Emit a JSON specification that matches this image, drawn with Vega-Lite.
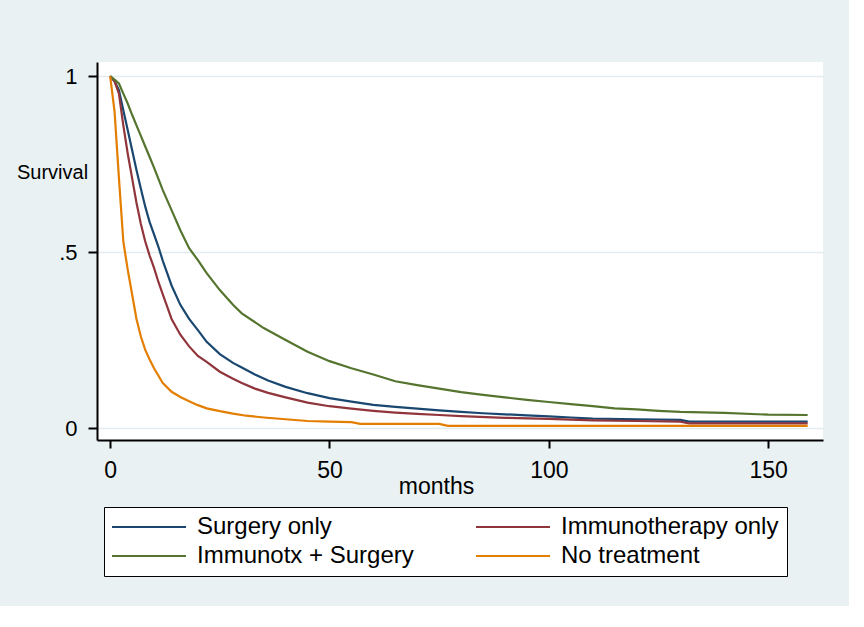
{
  "$schema": "https://vega.github.io/schema/vega-lite/v6.json",
  "autosize": {"type": "none"},
  "width": 726,
  "height": 378,
  "padding": {"left": 97, "top": 62, "right": 26, "bottom": 166},
  "background": "#E9F1F3",
  "config": {
    "view": {"fill": "white", "stroke": null},
    "font": "Liberation Sans",
    "axis": {
      "domainColor": "black", "domainWidth": 2,
      "tickColor": "black", "tickWidth": 2,
      "labelColor": "black", "titleColor": "black",
      "labelFont": "Liberation Sans", "titleFont": "Liberation Sans",
      "titleFontWeight": "normal",
      "gridColor": "#E2ECEF", "gridWidth": 1.5
    },
    "legend": {
      "labelFont": "Liberation Sans"
    }
  },
  "data": {"values": [
    {"group": "Surgery only", "t": 0, "s": 1},
    {"group": "Surgery only", "t": 1, "s": 0.985},
    {"group": "Surgery only", "t": 2, "s": 0.96},
    {"group": "Surgery only", "t": 3, "s": 0.903},
    {"group": "Surgery only", "t": 4, "s": 0.847},
    {"group": "Surgery only", "t": 5, "s": 0.79},
    {"group": "Surgery only", "t": 6, "s": 0.733},
    {"group": "Surgery only", "t": 7, "s": 0.68},
    {"group": "Surgery only", "t": 8, "s": 0.629},
    {"group": "Surgery only", "t": 9, "s": 0.585},
    {"group": "Surgery only", "t": 10, "s": 0.55},
    {"group": "Surgery only", "t": 11, "s": 0.515},
    {"group": "Surgery only", "t": 12, "s": 0.475},
    {"group": "Surgery only", "t": 13, "s": 0.44},
    {"group": "Surgery only", "t": 14, "s": 0.405},
    {"group": "Surgery only", "t": 16, "s": 0.35},
    {"group": "Surgery only", "t": 18, "s": 0.31},
    {"group": "Surgery only", "t": 20, "s": 0.278},
    {"group": "Surgery only", "t": 22, "s": 0.245},
    {"group": "Surgery only", "t": 25, "s": 0.21},
    {"group": "Surgery only", "t": 28, "s": 0.185},
    {"group": "Surgery only", "t": 30, "s": 0.172},
    {"group": "Surgery only", "t": 33, "s": 0.152},
    {"group": "Surgery only", "t": 36, "s": 0.135},
    {"group": "Surgery only", "t": 40, "s": 0.117},
    {"group": "Surgery only", "t": 45, "s": 0.099},
    {"group": "Surgery only", "t": 50, "s": 0.085},
    {"group": "Surgery only", "t": 55, "s": 0.075},
    {"group": "Surgery only", "t": 60, "s": 0.066},
    {"group": "Surgery only", "t": 65, "s": 0.06},
    {"group": "Surgery only", "t": 70, "s": 0.055},
    {"group": "Surgery only", "t": 75, "s": 0.05},
    {"group": "Surgery only", "t": 80, "s": 0.046},
    {"group": "Surgery only", "t": 85, "s": 0.042},
    {"group": "Surgery only", "t": 90, "s": 0.039},
    {"group": "Surgery only", "t": 95, "s": 0.036},
    {"group": "Surgery only", "t": 100, "s": 0.033},
    {"group": "Surgery only", "t": 105, "s": 0.03},
    {"group": "Surgery only", "t": 110, "s": 0.027},
    {"group": "Surgery only", "t": 120, "s": 0.025},
    {"group": "Surgery only", "t": 130, "s": 0.023},
    {"group": "Surgery only", "t": 132, "s": 0.018},
    {"group": "Surgery only", "t": 159, "s": 0.018},

    {"group": "Immunotherapy only", "t": 0, "s": 1},
    {"group": "Immunotherapy only", "t": 1, "s": 0.985},
    {"group": "Immunotherapy only", "t": 2, "s": 0.95},
    {"group": "Immunotherapy only", "t": 3, "s": 0.86},
    {"group": "Immunotherapy only", "t": 4, "s": 0.78},
    {"group": "Immunotherapy only", "t": 5, "s": 0.71},
    {"group": "Immunotherapy only", "t": 6, "s": 0.64},
    {"group": "Immunotherapy only", "t": 7, "s": 0.58},
    {"group": "Immunotherapy only", "t": 8, "s": 0.53},
    {"group": "Immunotherapy only", "t": 9, "s": 0.49},
    {"group": "Immunotherapy only", "t": 10, "s": 0.455},
    {"group": "Immunotherapy only", "t": 11, "s": 0.415},
    {"group": "Immunotherapy only", "t": 12, "s": 0.38},
    {"group": "Immunotherapy only", "t": 13, "s": 0.345},
    {"group": "Immunotherapy only", "t": 14, "s": 0.31},
    {"group": "Immunotherapy only", "t": 16, "s": 0.265},
    {"group": "Immunotherapy only", "t": 18, "s": 0.232},
    {"group": "Immunotherapy only", "t": 20, "s": 0.205},
    {"group": "Immunotherapy only", "t": 22, "s": 0.188},
    {"group": "Immunotherapy only", "t": 25, "s": 0.16},
    {"group": "Immunotherapy only", "t": 28, "s": 0.14},
    {"group": "Immunotherapy only", "t": 30, "s": 0.128},
    {"group": "Immunotherapy only", "t": 33, "s": 0.112},
    {"group": "Immunotherapy only", "t": 36, "s": 0.1},
    {"group": "Immunotherapy only", "t": 40, "s": 0.087},
    {"group": "Immunotherapy only", "t": 45, "s": 0.072},
    {"group": "Immunotherapy only", "t": 50, "s": 0.062},
    {"group": "Immunotherapy only", "t": 55, "s": 0.055},
    {"group": "Immunotherapy only", "t": 60, "s": 0.049},
    {"group": "Immunotherapy only", "t": 65, "s": 0.044},
    {"group": "Immunotherapy only", "t": 70, "s": 0.04},
    {"group": "Immunotherapy only", "t": 75, "s": 0.037},
    {"group": "Immunotherapy only", "t": 80, "s": 0.034},
    {"group": "Immunotherapy only", "t": 90, "s": 0.029},
    {"group": "Immunotherapy only", "t": 100, "s": 0.026},
    {"group": "Immunotherapy only", "t": 110, "s": 0.022},
    {"group": "Immunotherapy only", "t": 120, "s": 0.02},
    {"group": "Immunotherapy only", "t": 130, "s": 0.018},
    {"group": "Immunotherapy only", "t": 132, "s": 0.013},
    {"group": "Immunotherapy only", "t": 159, "s": 0.013},

    {"group": "Immunotx + Surgery", "t": 0, "s": 1},
    {"group": "Immunotx + Surgery", "t": 1, "s": 0.99},
    {"group": "Immunotx + Surgery", "t": 2, "s": 0.979},
    {"group": "Immunotx + Surgery", "t": 3, "s": 0.95},
    {"group": "Immunotx + Surgery", "t": 4, "s": 0.922},
    {"group": "Immunotx + Surgery", "t": 5, "s": 0.89},
    {"group": "Immunotx + Surgery", "t": 6, "s": 0.86},
    {"group": "Immunotx + Surgery", "t": 7, "s": 0.83},
    {"group": "Immunotx + Surgery", "t": 8, "s": 0.8},
    {"group": "Immunotx + Surgery", "t": 9, "s": 0.77},
    {"group": "Immunotx + Surgery", "t": 10, "s": 0.74},
    {"group": "Immunotx + Surgery", "t": 12, "s": 0.676},
    {"group": "Immunotx + Surgery", "t": 14, "s": 0.619},
    {"group": "Immunotx + Surgery", "t": 16, "s": 0.562},
    {"group": "Immunotx + Surgery", "t": 18, "s": 0.511},
    {"group": "Immunotx + Surgery", "t": 20, "s": 0.477},
    {"group": "Immunotx + Surgery", "t": 22, "s": 0.44},
    {"group": "Immunotx + Surgery", "t": 25, "s": 0.392},
    {"group": "Immunotx + Surgery", "t": 28, "s": 0.35},
    {"group": "Immunotx + Surgery", "t": 30, "s": 0.326},
    {"group": "Immunotx + Surgery", "t": 35, "s": 0.284},
    {"group": "Immunotx + Surgery", "t": 40, "s": 0.25},
    {"group": "Immunotx + Surgery", "t": 45, "s": 0.217},
    {"group": "Immunotx + Surgery", "t": 50, "s": 0.19},
    {"group": "Immunotx + Surgery", "t": 55, "s": 0.17},
    {"group": "Immunotx + Surgery", "t": 60, "s": 0.152},
    {"group": "Immunotx + Surgery", "t": 65, "s": 0.133},
    {"group": "Immunotx + Surgery", "t": 70, "s": 0.122},
    {"group": "Immunotx + Surgery", "t": 75, "s": 0.112},
    {"group": "Immunotx + Surgery", "t": 80, "s": 0.102},
    {"group": "Immunotx + Surgery", "t": 85, "s": 0.094},
    {"group": "Immunotx + Surgery", "t": 90, "s": 0.087},
    {"group": "Immunotx + Surgery", "t": 95, "s": 0.08},
    {"group": "Immunotx + Surgery", "t": 100, "s": 0.074},
    {"group": "Immunotx + Surgery", "t": 105, "s": 0.068},
    {"group": "Immunotx + Surgery", "t": 110, "s": 0.062},
    {"group": "Immunotx + Surgery", "t": 115, "s": 0.056},
    {"group": "Immunotx + Surgery", "t": 120, "s": 0.053},
    {"group": "Immunotx + Surgery", "t": 125, "s": 0.049},
    {"group": "Immunotx + Surgery", "t": 130, "s": 0.046},
    {"group": "Immunotx + Surgery", "t": 140, "s": 0.043},
    {"group": "Immunotx + Surgery", "t": 150, "s": 0.038},
    {"group": "Immunotx + Surgery", "t": 159, "s": 0.037},

    {"group": "No  treatment", "t": 0, "s": 1},
    {"group": "No  treatment", "t": 1, "s": 0.9},
    {"group": "No  treatment", "t": 2, "s": 0.71},
    {"group": "No  treatment", "t": 3, "s": 0.53},
    {"group": "No  treatment", "t": 4, "s": 0.45},
    {"group": "No  treatment", "t": 5, "s": 0.38},
    {"group": "No  treatment", "t": 6, "s": 0.31},
    {"group": "No  treatment", "t": 7, "s": 0.26},
    {"group": "No  treatment", "t": 8, "s": 0.222},
    {"group": "No  treatment", "t": 9, "s": 0.195},
    {"group": "No  treatment", "t": 10, "s": 0.17},
    {"group": "No  treatment", "t": 12, "s": 0.128},
    {"group": "No  treatment", "t": 14, "s": 0.103},
    {"group": "No  treatment", "t": 16, "s": 0.088},
    {"group": "No  treatment", "t": 18, "s": 0.076},
    {"group": "No  treatment", "t": 20, "s": 0.065},
    {"group": "No  treatment", "t": 22, "s": 0.056},
    {"group": "No  treatment", "t": 25, "s": 0.048},
    {"group": "No  treatment", "t": 28, "s": 0.041},
    {"group": "No  treatment", "t": 31, "s": 0.035},
    {"group": "No  treatment", "t": 35, "s": 0.03},
    {"group": "No  treatment", "t": 40, "s": 0.025},
    {"group": "No  treatment", "t": 45, "s": 0.02},
    {"group": "No  treatment", "t": 50, "s": 0.018},
    {"group": "No  treatment", "t": 55, "s": 0.017},
    {"group": "No  treatment", "t": 57, "s": 0.012},
    {"group": "No  treatment", "t": 75, "s": 0.012},
    {"group": "No  treatment", "t": 77, "s": 0.006},
    {"group": "No  treatment", "t": 159, "s": 0.006}
  ]},
  "mark": {"type": "line", "strokeWidth": 2.2, "clip": true},
  "encoding": {
    "x": {
      "field": "t", "type": "quantitative",
      "scale": {"domain": [-3, 162.5], "nice": false, "zero": false},
      "axis": {
        "values": [0, 50, 100, 150], "format": "d", "grid": false,
        "tickSize": 8, "labelPadding": 11, "labelFontSize": 23,
        "title": "months", "titleFontSize": 23,
        "titleX": 339, "titleY": 53, "titleAlign": "center", "titleBaseline": "alphabetic"
      }
    },
    "y": {
      "field": "s", "type": "quantitative",
      "scale": {"domain": [-0.034, 1.04], "nice": false, "zero": false},
      "axis": {
        "values": [0, 0.5, 1], "grid": true,
        "labelExpr": "datum.value == 0.5 ? '.5' : (datum.value == 1 ? '1' : '0')",
        "tickSize": 9, "labelPadding": 11, "labelFontSize": 22,
        "title": "Survival", "titleFontSize": 20, "titleAngle": 0,
        "titleX": -45, "titleY": 110, "titleAlign": "center", "titleBaseline": "middle"
      }
    },
    "color": {
      "field": "group", "type": "nominal",
      "scale": {
        "domain": ["Surgery only", "Immunotherapy only", "Immunotx + Surgery", "No  treatment"],
        "range": ["#1a476f", "#90353b", "#55752f", "#e37e00"]
      },
      "legend": {
        "orient": "none", "legendX": 7, "legendY": 445,
        "title": null, "columns": 2, "direction": "horizontal",
        "strokeColor": "black", "fillColor": "white", "padding": 8,
        "symbolType": "M-1.2,0H6.2", "symbolSize": 400, "symbolStrokeWidth": 2,
        "labelFontSize": 24, "labelOffset": 61, "labelLimit": 400,
        "columnPadding": 58, "rowPadding": 5, "labelColor": "black"
      }
    }
  }
}
